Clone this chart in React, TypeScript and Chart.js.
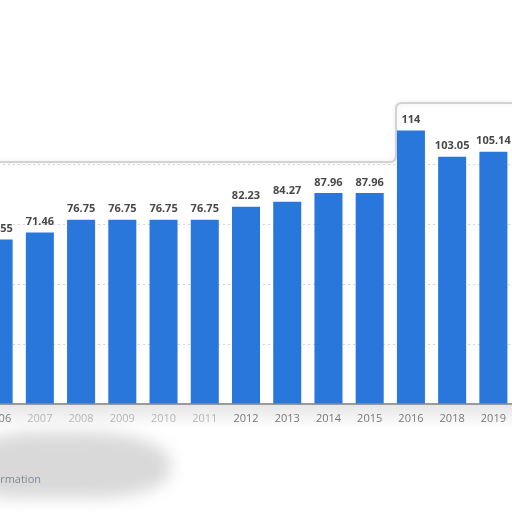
import React, { useEffect, useRef } from 'react';
import { Chart, registerables } from 'chart.js';

Chart.register(...registerables);

const years = ['2006', '2007', '2008', '2009', '2010', '2011', '2012', '2013', '2014', '2015', '2016', '2018', '2019'];
const values = [68.55, 71.46, 76.75, 76.75, 76.75, 76.75, 82.23, 84.27, 87.96, 87.96, 114, 103.05, 105.14];
const yTicks = [0, 25, 50, 75, 100, 125];

const BAR_COLOR = '#2a77db';

// value labels above the bars
const valueLabels = {
    id: 'valueLabels',
    afterDatasetsDraw(chart: any) {
        const ctx = chart.ctx;
        const meta = chart.getDatasetMeta(0);
        ctx.save();
        ctx.font = 'bold 11px "Open Sans", sans-serif';
        ctx.fillStyle = '#484848';
        ctx.textAlign = 'center';
        ctx.textBaseline = 'bottom';
        meta.data.forEach((bar: any, i: number) => {
            ctx.fillText(String(values[i]), bar.x, bar.y - 5);
        });
        ctx.restore();
    }
};

// the faded panel edge and the shadow under the axis seen in the screenshot
const panelEdge = {
    id: 'panelEdge',
    beforeDraw(chart: any) {
        const { ctx, chartArea, scales } = chart;
        const yLow = scales.y.getPixelForValue(100.8);
        const yHigh = scales.y.getPixelForValue(125.4);
        const step = scales.x.getPixelForValue(10) - 15;
        ctx.save();
        const grad = ctx.createLinearGradient(0, chartArea.bottom, 0, chartArea.bottom + 24);
        grad.addColorStop(0, 'rgba(0,0,0,0.10)');
        grad.addColorStop(1, 'rgba(0,0,0,0)');
        ctx.fillStyle = grad;
        ctx.fillRect(chartArea.left, chartArea.bottom, chartArea.right - chartArea.left, 24);
        ctx.strokeStyle = '#d2d2d2';
        ctx.lineWidth = 2;
        ctx.shadowColor = 'rgba(0,0,0,0.10)';
        ctx.shadowBlur = 5;
        ctx.beginPath();
        ctx.moveTo(chartArea.left, yLow);
        ctx.lineTo(step - 6, yLow);
        ctx.quadraticCurveTo(step, yLow, step, yLow - 6);
        ctx.lineTo(step, yHigh + 6);
        ctx.quadraticCurveTo(step, yHigh, step + 6, yHigh);
        ctx.lineTo(chartArea.right, yHigh);
        ctx.stroke();
        ctx.restore();
    }
};

function BarChart() {
    const canvasRef = useRef<HTMLCanvasElement>(null);

    useEffect(() => {
        if (!canvasRef.current) return;
        const chart = new Chart(canvasRef.current, {
            type: 'bar',
            data: {
                labels: years,
                datasets: [{
                    data: values,
                    backgroundColor: BAR_COLOR,
                    borderWidth: 0,
                    barPercentage: 0.68,
                    categoryPercentage: 1
                }]
            },
            options: {
                animation: false,
                responsive: false,
                maintainAspectRatio: false,
                layout: { padding: { top: 104, left: 0, right: 0, bottom: 0 } },
                plugins: {
                    legend: { display: false },
                    tooltip: { enabled: false }
                },
                scales: {
                    x: {
                        grid: { display: false, drawTicks: false },
                        border: { display: true, color: '#9a9a9a', width: 2 },
                        ticks: {
                            color: (c: any) => (c.index >= 1 && c.index <= 5) ? '#b5b5b5' : '#777',
                            padding: 8,
                            maxRotation: 0,
                            autoSkip: false,
                            font: { family: '"Open Sans", sans-serif', size: 11 }
                        },
                        afterFit: (axis: any) => { axis.height = 108; }
                    },
                    y: {
                        display: true,
                        min: 0,
                        max: 125,
                        afterBuildTicks: (axis: any) => { axis.ticks = yTicks.map(v => ({ value: v })); },
                        ticks: { display: false },
                        border: { display: false, dash: [2, 3] },
                        grid: {
                            color: (c: any) => (c.tick && (c.tick.value === 0 || c.tick.value === 125)) ? 'rgba(0,0,0,0)' : '#d4d4d4',
                            drawTicks: false,
                            lineWidth: 1
                        },
                        afterFit: (axis: any) => { axis.width = 0; }
                    }
                }
            },
            plugins: [panelEdge, valueLabels]
        });
        return () => chart.destroy();
    }, []);

    return <canvas ref={canvasRef} width={536} height={512} style={{ position: 'absolute', left: -22, top: 0 }} />;
}

export default function App() {
    return (
        <div style={{ position: 'fixed', left: 0, top: 0, width: 512, height: 512, overflow: 'hidden', background: '#fff' }}>
            <BarChart />
            <div style={{ position: 'absolute', left: -20, top: 432, width: 190, height: 66, background: '#d9d9d9', borderRadius: '30% 45% 40% 20%', filter: 'blur(8px)' }} />
            <span style={{ position: 'absolute', right: 471, top: 471, whiteSpace: 'nowrap', color: '#7f8a96', font: '11px "Open Sans", sans-serif' }}>
                Additional Information
            </span>
        </div>
    );
}
